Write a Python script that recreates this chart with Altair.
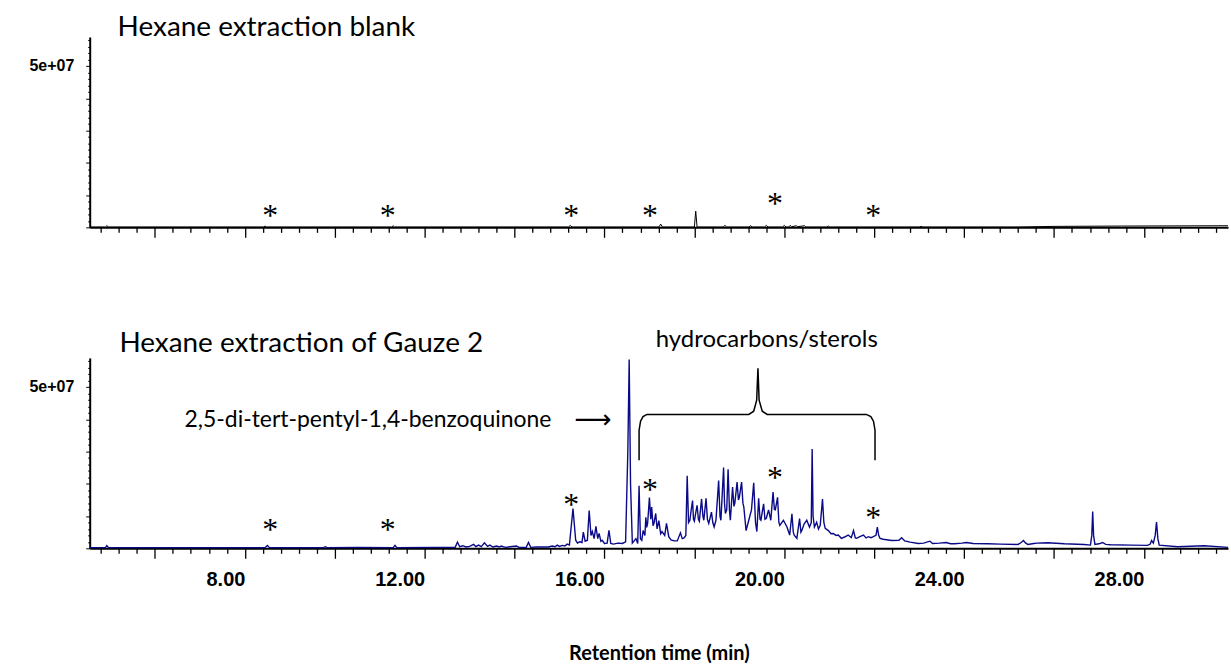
import altair as alt
import pandas as pd

# ---------------- data (retention time in min, intensity in millions of counts) -------------
gauze_t = [4.55, 4.9, 4.93, 4.97, 6.5, 8.45, 8.5, 8.55, 9.75, 9.79, 9.83, 10.5, 11.3, 11.34, 11.38,
           12.2, 12.68, 12.73, 12.78, 12.85, 12.92, 13.0, 13.09, 13.14, 13.2, 13.26, 13.33, 13.4,
           13.45, 13.52, 13.6, 13.66, 13.7, 13.8, 14.04, 14.1, 14.26, 14.31, 14.36, 14.48, 14.75,
           14.84, 14.9, 14.95, 15.0, 15.06, 15.12, 15.17, 15.22, 15.3, 15.36, 15.4, 15.45, 15.5,
           15.53, 15.57, 15.62, 15.66, 15.7, 15.73, 15.77, 15.81, 15.85, 15.88, 15.92, 15.95, 16.0,
           16.06, 16.1, 16.14, 16.2, 16.3, 16.4, 16.47, 16.52, 16.55, 16.58, 16.62, 16.7, 16.74,
           16.77, 16.8, 16.83, 16.86, 16.9, 16.92, 16.94, 16.96, 17.0, 17.03, 17.05, 17.08, 17.1,
           17.14, 17.17, 17.21, 17.25, 17.28, 17.34, 17.38, 17.43, 17.48, 17.55, 17.62, 17.69,
           17.73, 17.77, 17.81, 17.84, 17.87, 17.9, 17.93, 17.96, 17.98, 18.0, 18.03, 18.06, 18.09,
           18.11, 18.16, 18.19, 18.21, 18.26, 18.29, 18.32, 18.38, 18.41, 18.44, 18.48, 18.54,
           18.57, 18.59, 18.65, 18.67, 18.69, 18.72, 18.75, 18.78, 18.8, 18.85, 18.88, 18.9, 18.95,
           18.98, 19.0, 19.05, 19.08, 19.1, 19.15, 19.21, 19.27, 19.32, 19.36, 19.39, 19.43, 19.46,
           19.48, 19.54, 19.57, 19.6, 19.65, 19.7, 19.75, 19.78, 19.8, 19.85, 19.88, 19.9, 19.98,
           20.06, 20.12, 20.17, 20.2, 20.22, 20.28, 20.34, 20.37, 20.39, 20.44, 20.5, 20.56, 20.6,
           20.62, 20.64, 20.67, 20.72, 20.76, 20.8, 20.85, 20.88, 20.91, 20.98, 21.04, 21.09, 21.15,
           21.2, 21.27, 21.34, 21.42, 21.49, 21.54, 21.58, 21.61, 21.68, 21.76, 21.82, 21.87, 21.93,
           21.98, 22.04, 22.07, 22.1, 22.13, 22.2, 22.39, 22.55, 22.61, 22.68, 22.8, 22.98, 23.1,
           23.24, 23.3, 23.45, 23.6, 23.7, 23.79, 23.95, 24.05, 24.2, 24.53, 24.8, 25.2, 25.27,
           25.32, 25.37, 25.42, 25.55, 25.62, 25.86, 26.23, 26.67, 26.81, 26.84, 26.86, 26.88,
           26.91, 27.0, 27.08, 27.15, 27.26, 27.71, 28.08, 28.14, 28.17, 28.21, 28.25, 28.28, 28.31,
           28.34, 28.75, 29.34, 29.87]
gauze_v = [0.2, 0.2, 0.8, 0.2, 0.2, 0.2, 0.9, 0.2, 0.2, 0.5, 0.2, 0.3, 0.2, 0.9, 0.2,
           0.3, 0.3, 1.9, 0.5, 0.8, 0.4, 0.6, 1.2, 0.5, 1.0, 0.5, 1.7, 0.6,
           1.0, 0.4, 0.7, 0.4, 0.7, 0.3, 0.7, 0.3, 0.3, 1.8, 0.3, 0.4, 0.4,
           0.7, 0.5, 1.0, 0.6, 0.9, 0.7, 1.3, 1.0, 12.3, 2.5, 1.6, 2.0, 1.8,
           5.0, 2.2, 2.5, 11.7, 4.0, 5.2, 3.0, 6.8, 3.0, 4.6, 2.2, 2.5, 1.5,
           1.6, 5.6, 1.5, 1.3, 1.6, 1.5, 2.0, 30.0, 58.5, 20.0, 1.6, 3.0, 1.5,
           19.4, 3.0, 2.5, 5.5, 4.0, 9.6, 6.5, 7.7, 15.7, 9.0, 12.8, 7.0, 7.7,
           10.8, 6.0, 8.6, 4.5, 5.2, 4.0, 7.7, 3.6, 2.6, 2.3, 2.3, 4.8,
           3.0, 3.2, 4.0, 22.5, 8.0, 8.7, 12.0, 14.8, 9.0, 8.4, 11.0, 13.3, 9.0,
           8.4, 15.3, 10.0, 8.7, 15.5, 9.0, 7.7, 11.2, 8.0, 6.6, 8.7, 21.0,
           10.0, 8.7, 25.0, 14.0, 10.8, 12.0, 24.5, 12.0, 8.7, 19.0, 13.0, 14.0, 20.5,
           15.0, 15.8, 20.5, 14.0, 12.8, 5.5, 8.7, 11.9, 20.3, 8.0, 5.2, 15.5, 9.0,
           8.7, 13.8, 9.0, 9.3, 11.9, 8.7, 17.4, 12.0, 11.9, 15.8, 8.0, 7.1, 8.7,
           6.6, 4.1, 10.7, 5.0, 4.1, 3.1, 9.2, 5.0, 5.5, 7.5, 8.7, 6.6, 8.0,
           30.8, 10.0, 6.6, 8.1, 6.0, 7.1, 15.3, 8.0, 6.2, 5.5, 4.5, 4.6, 4.0,
           4.1, 3.1, 3.5, 4.1, 3.3, 5.5, 3.2, 3.1, 3.6, 4.1, 3.2, 3.6, 3.3,
           3.6, 4.0, 6.6, 4.0, 3.1, 2.8, 2.4, 2.5, 3.3, 2.3, 1.9, 1.5, 1.6,
           2.2, 1.5, 1.6, 1.8, 1.4, 1.4, 1.6, 1.8, 1.5, 1.4, 1.3, 1.2, 1.8,
           2.4, 1.6, 1.2, 1.5, 1.6, 1.7, 1.4, 1.2, 1.0, 4.0, 11.4, 4.0,
           1.2, 1.4, 1.8, 1.2, 1.1, 1.0, 0.9, 1.3, 2.4, 1.6, 4.0, 8.1, 3.0,
           1.0, 0.5, 0.8, 0.3]

blank_t = [4.55, 4.9, 4.93, 4.97, 8.42, 8.45, 8.48, 11.27, 11.3, 11.33, 15.2, 15.24, 15.28,
           17.21, 17.25, 17.29, 18.0, 18.03, 18.06, 18.64, 18.68, 18.72, 19.21, 19.25, 19.29,
           19.56, 19.6, 19.64, 19.96, 20.0, 20.04, 20.1, 20.13, 20.16, 20.27, 20.3, 20.45, 20.48,
           20.95, 20.98, 21.01, 23.0, 23.04, 23.08, 25.2, 26.0, 27.5, 29.87]
blank_v = [0.1, 0.1, 0.5, 0.1, 0.1, 0.4, 0.1, 0.1, 0.5, 0.1, 0.1, 0.6, 0.1,
           0.1, 1.0, 0.1, 0.1, 5.0, 0.1, 0.1, 0.6, 0.1, 0.1, 0.5, 0.1,
           0.1, 0.6, 0.1, 0.1, 0.6, 0.1, 0.1, 0.6, 0.2, 0.5, 0.2, 0.5, 0.1,
           0.1, 0.4, 0.1, 0.1, 0.3, 0.1, 0.1, 0.3, 0.4, 0.5]

star_t = [8.565, 11.18, 15.26, 17.01, 19.79, 21.98]
star_blank_v = [5.6, 5.6, 5.6, 5.6, 9.5, 5.6]
star_gauze_v = [7.7, 7.7, 15.5, 20.1, 24.0, 11.6]

brace_t = [16.77, 16.77, 16.803, 16.858, 16.947, 19.21, 19.32, 19.386, 19.414, 19.44, 19.51,
           19.62, 21.825, 21.925, 21.984, 22.018, 22.018]
brace_v = [27.3, 36.6, 39.4, 40.8, 41.5, 41.5, 42.5, 45.9, 55.8, 45.9, 42.5,
           41.5, 41.5, 40.8, 39.4, 36.6, 27.3]

title_blank = "Hexane extraction blank"
title_gauze = "Hexane extraction of Gauze 2"
label_hc = "hydrocarbons/sterols"
label_bq = "2,5-di-tert-pentyl-1,4-benzoquinone"
x_title = "Retention time (min)"

# annotation anchors (time, intensity in millions)
title_blank_pos = (5.17, 59.2)
title_gauze_pos = (5.21, 60.7)
hc_pos = (19.61, 62.3)
bq_pos = (6.66, 37.5)
arrow_pos = (15.74, 39.7)

M = 1e6
X_DOMAIN = [4.55, 29.87]
Y_DOMAIN = [0, 59e6]
x_tick_values = [round(4.8 + 0.4 * i, 1) for i in range(63)]
y_tick_values = [i * 2000000 for i in range(30)]

def df(t, v):
    return pd.DataFrame({"t": t, "v": [x * M for x in v]})

def x_enc(labels):
    ax = dict(values=x_tick_values,
              tickSize={"condition": {"test": "abs(datum.value / 2 - round(datum.value / 2)) < 0.01", "value": 10}, "value": 5},
              labelOverlap=False, labelFlush=False, domainWidth=2, domainColor="black",
              tickColor="black", tickWidth=1.3)
    if labels:
        ax.update(labelExpr="abs(datum.value / 4 - round(datum.value / 4)) < 0.01 ? format(datum.value, '.2f') : ''",
                  labelAlign="right", labelBaseline="top", labelPadding=11,
                  labelFont="Liberation Sans", labelFontWeight="bold", labelFontSize=20, labelColor="black",
                  title=x_title, titleFont="Lato", titleFontWeight="bold", titleFontSize=20,
                  titleColor="black", titlePadding=55)
    else:
        ax.update(labels=False, title=None)
    return alt.X("t:Q", scale=alt.Scale(domain=X_DOMAIN, nice=False, zero=False), axis=alt.Axis(**ax))

def y_enc():
    return alt.Y("v:Q", scale=alt.Scale(domain=Y_DOMAIN, nice=False),
                 axis=alt.Axis(values=y_tick_values, title=None,
                               tickSize={"condition": {"test": "datum.value % 10000000 == 0", "value": 4}, "value": 2},
                               labelExpr="datum.value == 50000000 ? '5e+07' : ''",
                               labelFont="Liberation Sans", labelFontWeight="bold", labelFontSize=16,
                               labelColor="black", labelPadding=12, labelOverlap=False,
                               domainWidth=2, domainColor="black", tickColor="black", tickWidth=1))

def text_layer(txt, pos, labels, **kw):
    d = pd.DataFrame({"t": [pos[0]], "v": [pos[1] * M], "s": [txt]})
    return alt.Chart(d).mark_text(**kw).encode(x=x_enc(labels), y=y_enc(), text="s:N")

def star_layer(vals, labels):
    d = pd.DataFrame({"t": star_t, "v": [x * M for x in vals], "s": ["*"] * len(star_t)})
    return alt.Chart(d).mark_text(font="Liberation Serif", fontSize=32, baseline="middle",
                                  align="center", dy=7, color="black").encode(
        x=x_enc(labels), y=y_enc(), text="s:N")

W, H = 1142, 191

top = alt.layer(
    alt.Chart(df(blank_t, blank_v)).mark_line(color="black", strokeWidth=1).encode(
        x=x_enc(False), y=y_enc()),
    star_layer(star_blank_v, False),
    text_layer(title_blank, title_blank_pos, False, font="Lato", fontSize=28, align="left",
               baseline="alphabetic", color="black"),
).properties(width=W, height=H)

brace_df = pd.DataFrame({"t": brace_t, "v": [x * M for x in brace_v], "i": list(range(len(brace_t)))})

bottom = alt.layer(
    alt.Chart(df(gauze_t, gauze_v)).mark_line(color="#0a0a88", strokeWidth=1.4).encode(
        x=x_enc(True), y=y_enc()),
    star_layer(star_gauze_v, True),
    alt.Chart(brace_df).mark_line(color="black", strokeWidth=1.5).encode(
        x=x_enc(True), y=y_enc(), order="i:Q"),
    text_layer(title_gauze, title_gauze_pos, True, font="Lato", fontSize=28, align="left",
               baseline="alphabetic", color="black"),
    text_layer(label_hc, hc_pos, True, font="Lato", fontSize=24, align="center",
               baseline="alphabetic", color="black"),
    text_layer(label_bq, bq_pos, True, font="Lato", fontSize=23, align="left",
               baseline="alphabetic", color="black"),
    text_layer("\u27f6", arrow_pos, True, font="DejaVu Sans", fontSize=26, align="center",
               baseline="middle", color="black"),
).properties(width=W, height=H)

chart = alt.vconcat(top, bottom, spacing=131, bounds="flush").properties(
    padding={"left": 29, "top": 13, "right": 0, "bottom": 5}
).configure_view(stroke=None).configure_axis(grid=False)

chart.save("out.html", embed_options={"renderer": "svg", "actions": False})
